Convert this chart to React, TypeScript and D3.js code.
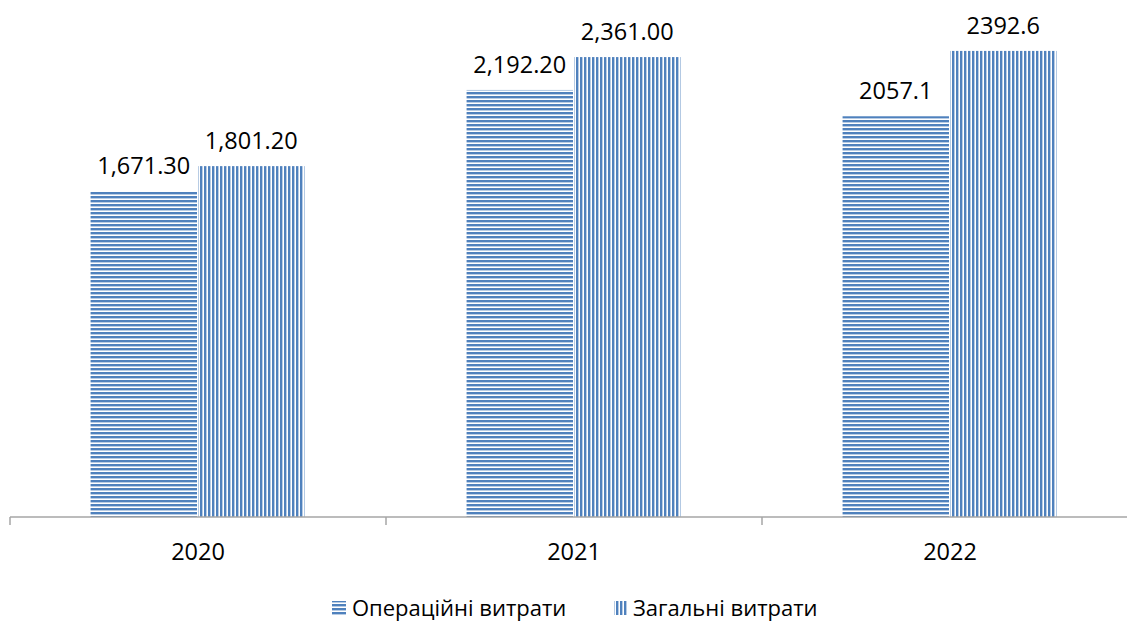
import * as d3 from "d3";

const years = ["2020", "2021", "2022"];
const seriesNames = ["Операційні витрати", "Загальні витрати"];
const operating = [1671.3, 2192.2, 2057.1];
const total = [1801.2, 2361.0, 2392.6];
const operatingLabels = ["1,671.30", "2,192.20", "2057.1"];
const totalLabels = ["1,801.20", "2,361.00", "2392.6"];

const W = 1127;
const H = 623;
const blue = "#4f81bd";
const font = "'Open Sans', 'DejaVu Sans', sans-serif";

export default function App() {
  const base = 517;
  const x0 = d3.scaleBand<string>().domain(years).range([10, 1138]);
  const x1 = d3
    .scaleBand<string>()
    .domain(["op", "tot"])
    .range([0, x0.bandwidth()])
    .paddingOuter(0.75);
  const y = d3.scaleLinear().domain([0, 2500]).range([base, 30]);

  const bars = years.flatMap((yr, i) => [
    { yr, key: "op", v: operating[i], label: operatingLabels[i], fill: "url(#hstripe)" },
    { yr, key: "tot", v: total[i], label: totalLabels[i], fill: "url(#vstripe)" },
  ]);

  const ticks = [...years.map((yr) => x0(yr)!), 1138];

  return (
    <svg width={W} height={H} style={{ position: "absolute", left: 0, top: 0, background: "#fff" }}>
      <defs>
        <pattern id="hstripe" width={4} height={4} patternUnits="userSpaceOnUse">
          <rect width={4} height={4} fill="#fff" />
          <rect y={0} width={4} height={2.4} fill={blue} />
        </pattern>
        <pattern id="vstripe" width={4} height={4} patternUnits="userSpaceOnUse">
          <rect width={4} height={4} fill="#fff" />
          <rect x={0} width={2.4} height={4} fill={blue} />
        </pattern>
      </defs>

      {bars.map((b) => {
        const bx = x0(b.yr)! + x1(b.key)!;
        const bw = x1.bandwidth() - 1;
        return (
          <g key={b.yr + b.key}>
            <rect x={bx} y={y(b.v)} width={bw} height={base - y(b.v)} fill={b.fill} />
            <text
              x={bx + bw / 2}
              y={y(b.v) - 17}
              textAnchor="middle"
              fontFamily={font}
              fontSize={23.5}
              fill="#000"
            >
              {b.label}
            </text>
          </g>
        );
      })}

      <line x1={10} x2={W} y1={base} y2={base} stroke="#a6a6a6" strokeWidth={1.5} />
      {ticks.map((t) => (
        <line key={t} x1={t} x2={t} y1={base} y2={base + 8} stroke="#a6a6a6" strokeWidth={1.5} />
      ))}
      {years.map((yr) => (
        <text
          key={yr}
          x={x0(yr)! + x0.bandwidth() / 2}
          y={560}
          textAnchor="middle"
          fontFamily={font}
          fontSize={23.5}
          fill="#000"
        >
          {yr}
        </text>
      ))}

      <g fontFamily={font} fontSize={22} fill="#000">
        <rect x={332} y={601} width={14} height={14} fill="url(#hstripe)" />
        <text x={352} y={616}>{seriesNames[0]}</text>
        <rect x={614} y={601} width={14} height={14} fill="url(#vstripe)" />
        <text x={633} y={616}>{seriesNames[1]}</text>
      </g>
    </svg>
  );
}
